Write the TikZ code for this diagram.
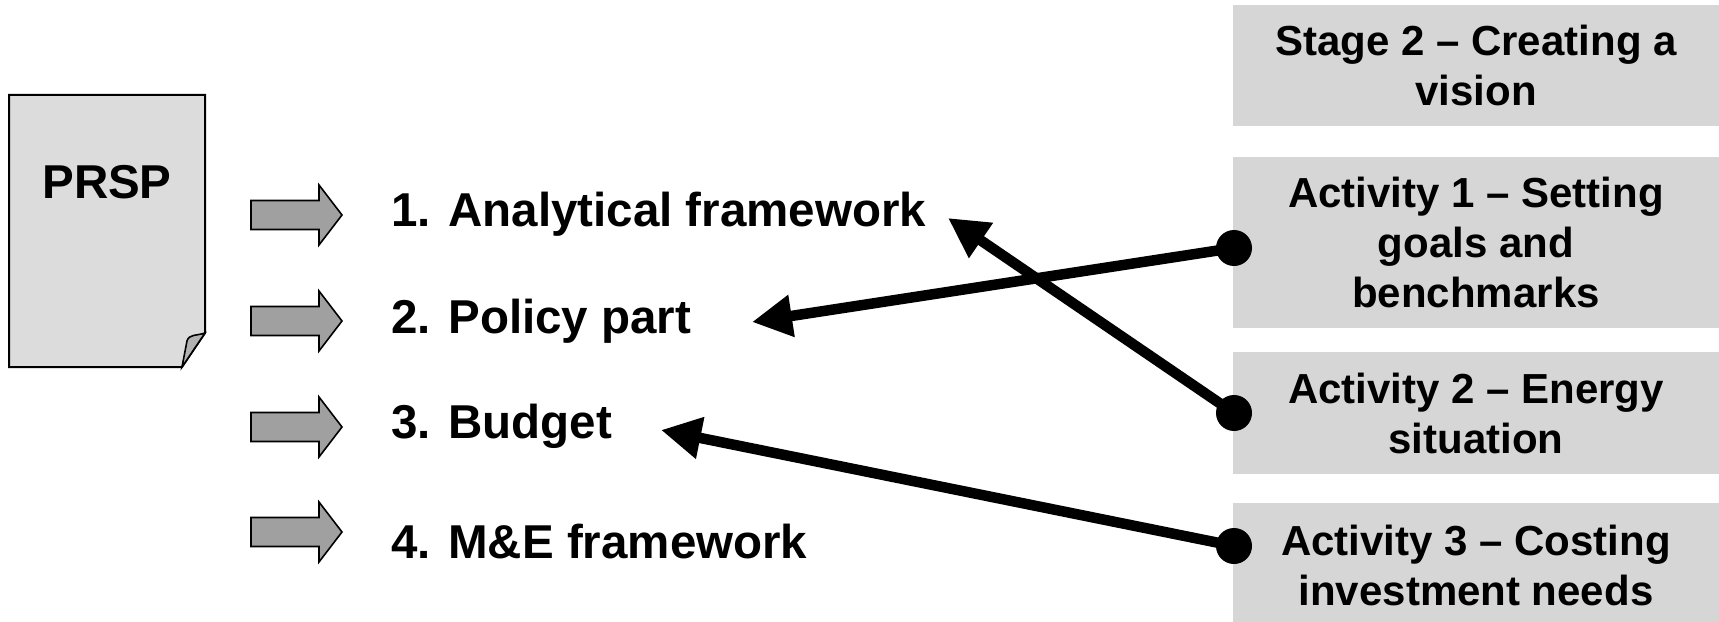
\documentclass[tikz,border=0pt]{standalone}
\usepackage{fontspec}
\setmainfont{Liberation Sans}
\usetikzlibrary{arrows.meta}
\definecolor{boxgray}{RGB}{214,214,214}
\definecolor{docgray}{RGB}{220,220,220}
\definecolor{arrgray}{RGB}{160,160,160}
\definecolor{flapgray}{RGB}{178,178,178}
\begin{document}
\begin{tikzpicture}[x=1bp,y=-1bp,
  stagebox/.style={fill=boxgray, draw=none, minimum width=486bp, align=center, inner sep=0pt,
    font=\fontsize{42bp}{50bp}\selectfont\bfseries},
  itemtext/.style={anchor=base west, inner sep=0pt, font=\fontsize{47.5bp}{56bp}\selectfont\bfseries},
  doctext/.style={inner sep=0pt, font=\fontsize{47.5bp}{56bp}\selectfont\bfseries},
  dotnode/.style={circle, fill=black, minimum size=36bp, inner sep=0pt},
  conn/.style={line width=10.5bp, -{Triangle[length=40bp,width=40bp]}},
  docshape/.style={draw=black, line width=2bp, fill=docgray, line join=miter},
  blockarrow/.pic={\draw[line width=1.6bp, fill=arrgray, line join=miter]
      (0,-14.5) -- (68,-14.5) -- (68,-30) -- (91,0) -- (68,30) -- (68,14.5) -- (0,14.5) -- cycle;}
]
\useasboundingbox (0,0) rectangle (1719,622);

% PRSP document
\draw[docshape] (9,95) -- (205,95) -- (205,333) -- (182,367) -- (9,367) -- cycle;
\draw[docshape, fill=flapgray, line width=1.6bp] (182,367) -- (187,341) .. controls (189,334) and (196,336) .. (205,333) -- cycle;
\node[doctext] (prsp) at (107,182) {PRSP};

% block arrows
\pic at (251,215) {blockarrow};
\pic at (251,321) {blockarrow};
\pic at (251,427) {blockarrow};
\pic at (251,532) {blockarrow};

% item texts
\node[itemtext] (i1) at (391,227) {1. Analytical framework};
\node[itemtext] (i2) at (391,333) {2. Policy part};
\node[itemtext] (i3) at (391,438) {3. Budget};
\node[itemtext] (i4) at (391,558) {4. M\&E framework};

% stage boxes
\node[stagebox, minimum height=121bp] (s0) at (1476,65.5) {Stage 2 – Creating a\\vision};
\node[stagebox, minimum height=171bp] (s1) at (1476,242.5) {Activity 1 – Setting\\goals and\\benchmarks};
\node[stagebox, minimum height=122bp] (s2) at (1476,413) {Activity 2 – Energy\\situation};
\node[stagebox, minimum height=124bp] (s3) at (1476,565) {Activity 3 – Costing\\investment needs};

% dots
\node[dotnode] (d1) at (1234,248) {};
\node[dotnode] (d2) at (1234,413) {};
\node[dotnode] (d3) at (1234,546) {};

% arrow targets
\coordinate (tA) at (948,218);
\coordinate (tP) at (752,322);
\coordinate (tB) at (661,430);

\draw[conn] (d1.center) -- (tP);
\draw[conn] (d2.center) -- (tA);
\draw[conn] (d3.center) -- (tB);
\end{tikzpicture}
\end{document}
